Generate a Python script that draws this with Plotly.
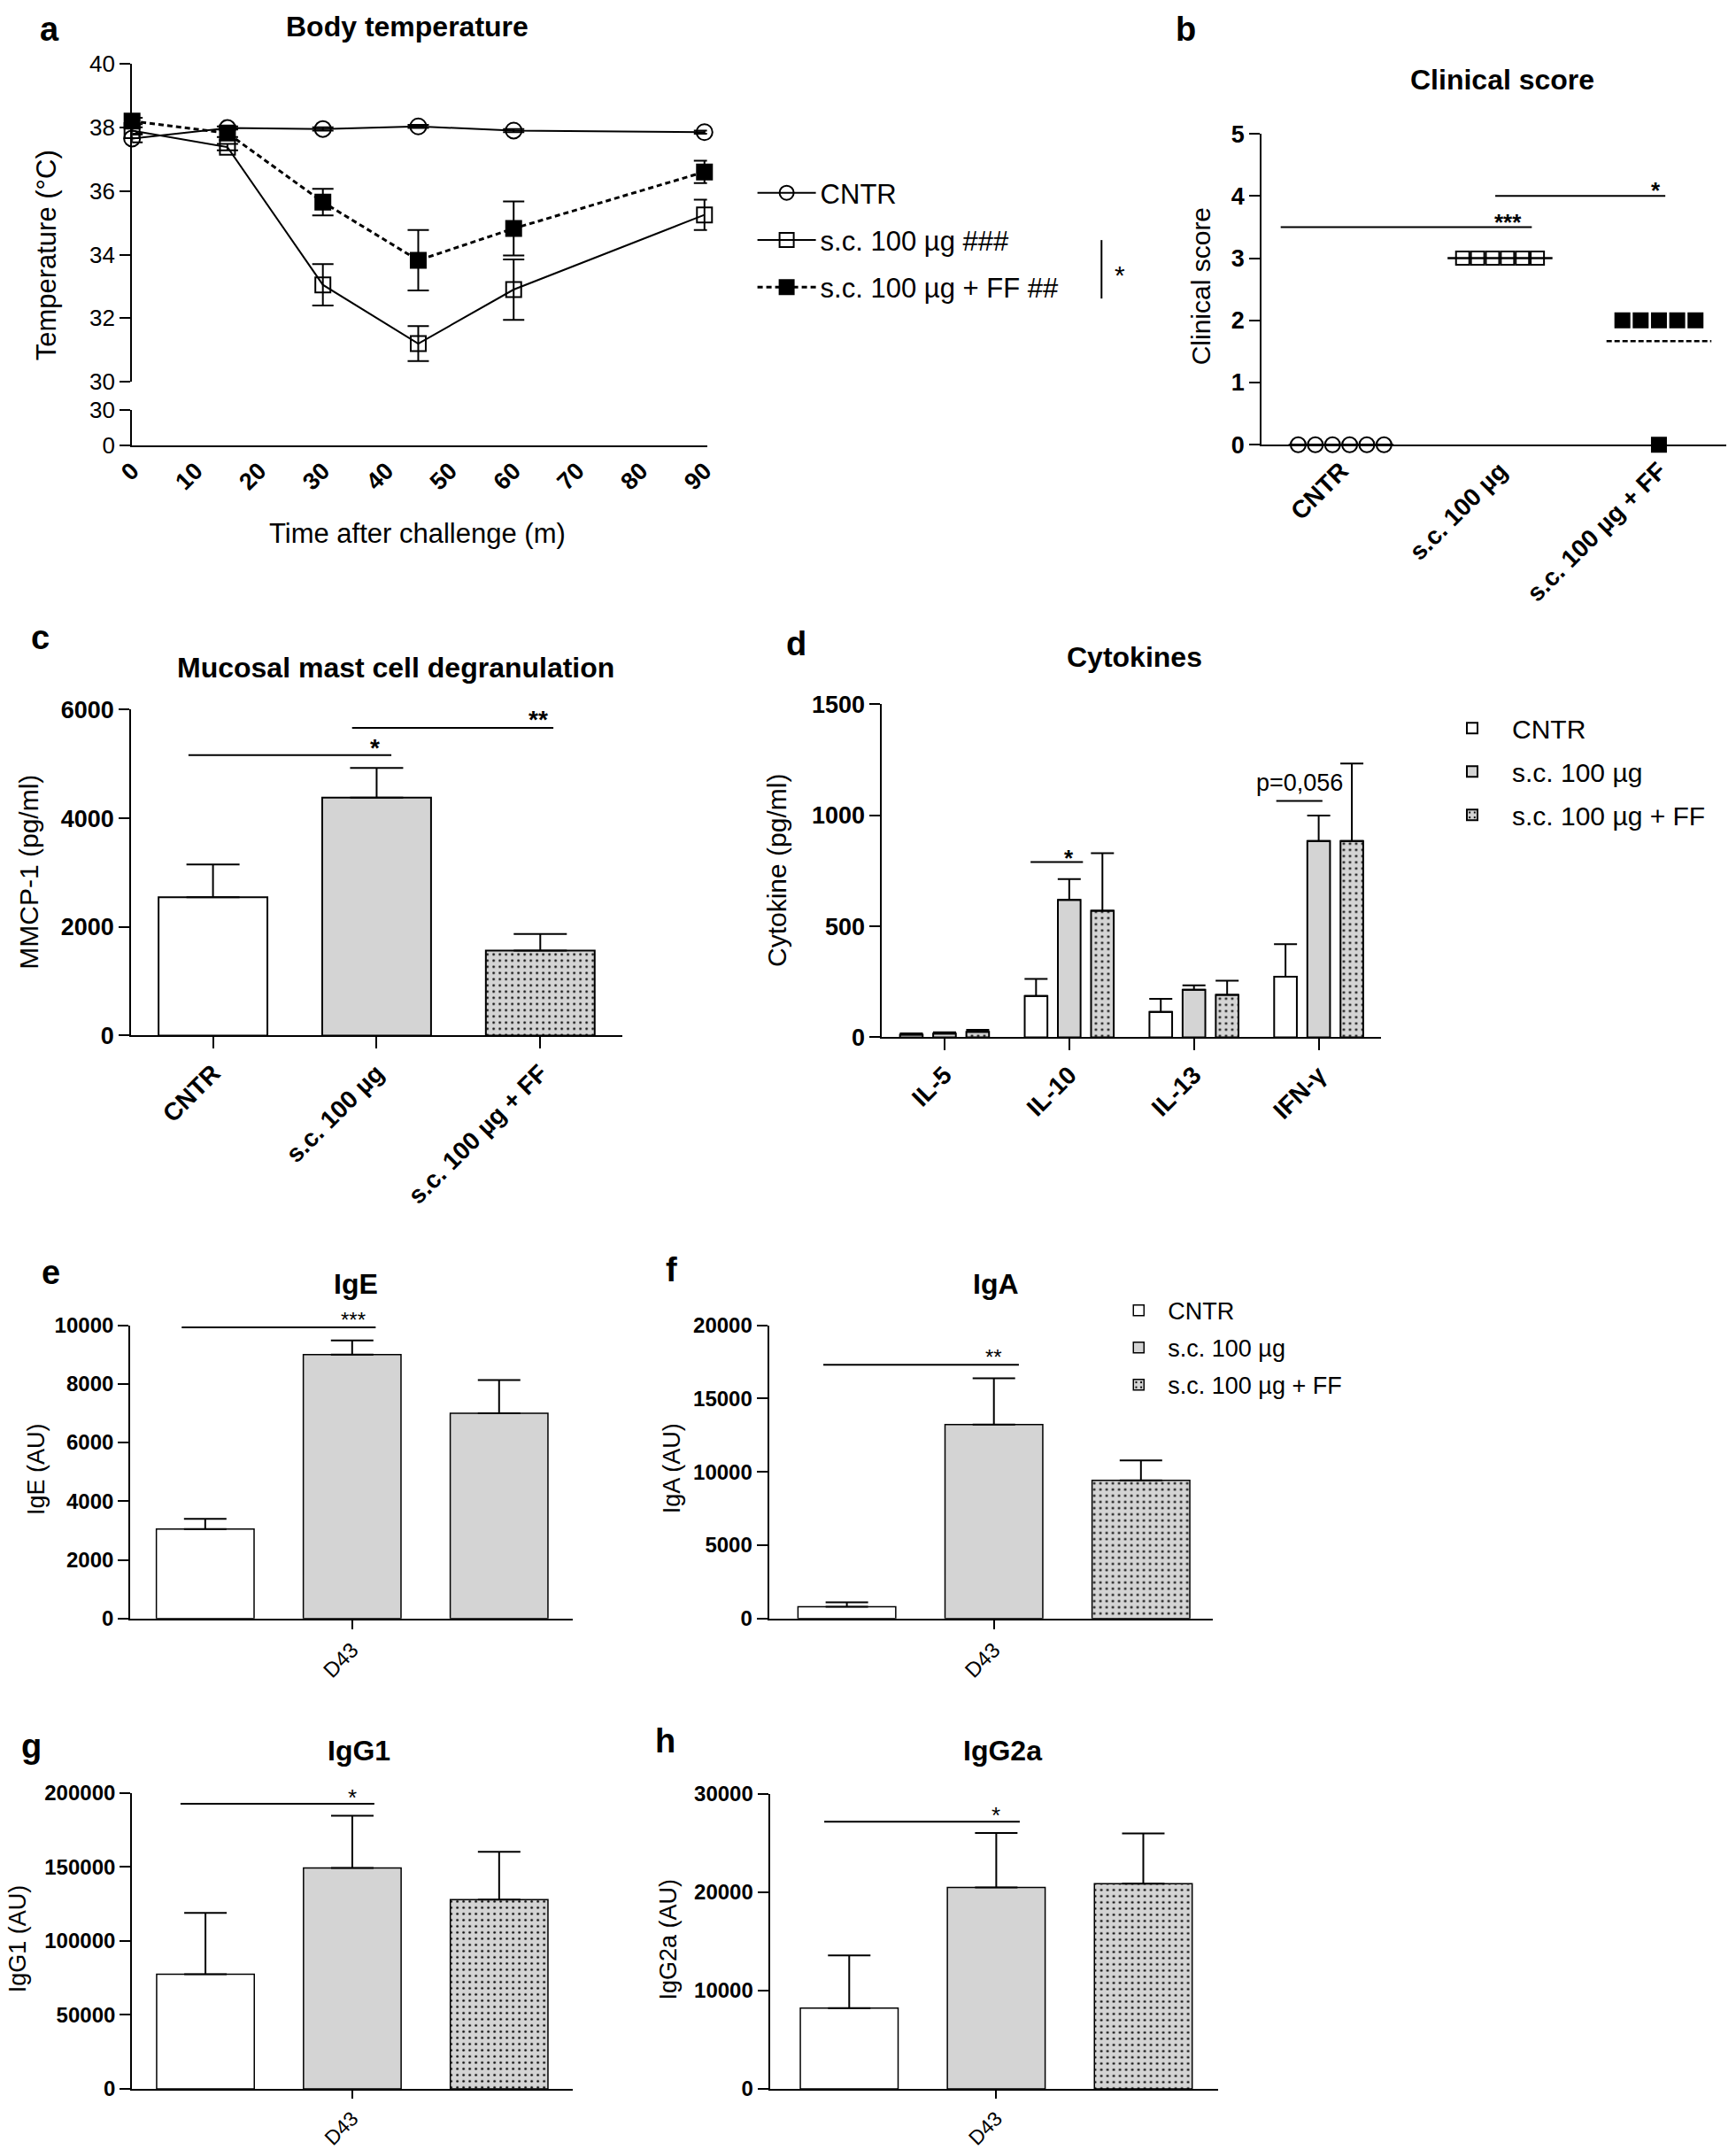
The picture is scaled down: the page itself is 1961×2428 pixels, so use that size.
import numpy as np
import plotly.graph_objects as go

W, H = 1961, 2428
FONT = "Liberation Sans, Arial, Helvetica, sans-serif"
GRAY = "#d4d4d4"

# ---------------- data ----------------
# (a) Body temperature
time_min = [0, 15, 30, 45, 60, 90]
temp_cntr = [37.65, 37.98, 37.95, 38.03, 37.9, 37.85]
temp_cntr_err = [0.12, 0.05, 0.05, 0.05, 0.05, 0.05]
temp_sc = [37.9, 37.38, 33.05, 31.2, 32.9, 35.25]
temp_sc_err = [0.1, 0.1, 0.65, 0.55, 0.95, 0.48]
temp_ff = [38.2, 37.82, 35.65, 33.82, 34.82, 36.6]
temp_ff_err = [0.1, 0.12, 0.42, 0.95, 0.85, 0.35]
legend_a = ["CNTR", "s.c. 100 µg ###", "s.c. 100 µg + FF ##"]

# groups
group_labels = ["CNTR", "s.c. 100 µg", "s.c. 100 µg + FF"]

# (b) Clinical score (individual animals)
score_cntr = [0, 0, 0, 0, 0, 0]
score_sc = [3, 3, 3, 3, 3, 3]
score_ff = [2, 2, 2, 2, 2, 0]

# (c) MMCP-1
mmcp_mean = [2545, 4378, 1564]
mmcp_sem = [604, 546, 305]

# (d) Cytokines
cyto_names = ["IL-5", "IL-10", "IL-13", "IFN-γ"]
cyto_cntr = [12, 186, 115, 273]
cyto_cntr_err = [6, 77, 58, 147]
cyto_sc = [17, 619, 214, 884]
cyto_sc_err = [6, 94, 20, 115]
cyto_ff = [25, 570, 191, 884]
cyto_ff_err = [9, 259, 64, 349]

# (e-h) Immunoglobulins at D43
ig_day = ["D43"]
ige_mean = [3050, 9000, 7000]
ige_err = [350, 480, 1130]
iga_mean = [800, 13230, 9420]
iga_err = [300, 3160, 1360]
igg1_mean = [77500, 149300, 127950]
igg1_err = [41440, 35400, 32250]
igg2a_mean = [8220, 20490, 20870]
igg2a_err = [5350, 5540, 5100]

# ---------------- helpers ----------------
S = 0.986  # compensation for the capture scaling about the page centre


def tx(x):
    return W / 2 + (x - W / 2) / S


def ty(y):
    return H / 2 + (y - H / 2) / S


def px(x):
    return min(max(tx(x) / W, 0.0), 1.0)


def py(y, min_top=None):
    v = ty(y)
    if min_top is not None:
        v = max(v, min_top)
    return min(max(1 - v / H, 0.0), 1.0)


def dx(a, b):
    return [px(a), px(b)]


def dy(top, bottom):
    return [py(bottom), py(top)]


def fnt(size, bold=False):
    return dict(family=FONT, size=size, color="black", weight="bold" if bold else "normal")


fig = go.Figure()
annotations = []
shapes = []


def text(s, x, y, size, bold=False, angle=0, xref="paper", yref="paper",
         xanchor="center", yanchor="middle", yshift=0, min_top=None):
    if xref == "paper":
        x = px(x)
    if yref == "paper":
        y = py(y, min_top)
    annotations.append(dict(text=s, x=x, y=y, xref=xref, yref=yref, showarrow=False,
                            xanchor=xanchor, yanchor=yanchor, yshift=yshift,
                            textangle=angle, font=fnt(size, bold)))


def hline(x0, x1, y, xref, yref, dash="solid", width=2):
    shapes.append(dict(type="line", x0=x0, x1=x1, y0=y, y1=y, xref=xref, yref=yref,
                       line=dict(color="black", width=width, dash=dash)))


def xax(domain, rng, anchor, tickvals, ticktext, ticks="outside", size=28, bold=True,
        angle=-45, ticklen=13):
    return dict(domain=domain, range=rng, anchor=anchor, showline=True, linecolor="black",
                linewidth=2, ticks=ticks, ticklen=ticklen, tickwidth=2, tickcolor="black",
                tickvals=tickvals, ticktext=ticktext, tickangle=angle,
                tickfont=fnt(size, bold), showgrid=False, zeroline=False, fixedrange=True)


def yax(domain, rng, anchor, tickvals, size=27, bold=True):
    return dict(domain=domain, range=rng, anchor=anchor, showline=True, linecolor="black",
                linewidth=2, ticks="outside", ticklen=12, tickwidth=2, tickcolor="black",
                tickvals=tickvals, tickformat="d", tickfont=fnt(size, bold), showgrid=False,
                zeroline=False, fixedrange=True)


def add_bar(xa, ya, x, y, err, name, fill, dotted, width, cap, legend=None, show=False, lw=2):
    if dotted:
        pattern = dict(shape=".", fgcolor="black", bgcolor=GRAY, size=7, solidity=0.12,
                       fillmode="replace")
    else:
        pattern = dict(shape="")
    fig.add_trace(go.Bar(
        x=x, y=y, width=width, name=name, xaxis=xa, yaxis=ya,
        marker=dict(color=fill, line=dict(color="black", width=lw), pattern=pattern),
        error_y=dict(type="data", array=err, arrayminus=[0] * len(err), symmetric=False,
                     color="black", thickness=2, width=cap),
        showlegend=show, legend=legend if legend else "legend", legendgroup=name + str(legend),
    ))


fills = ["white", GRAY, GRAY]
dots = [False, False, True]

# ---------------- panel a ----------------
a_series = [
    (temp_cntr, temp_cntr_err, "circle-open", "solid", 2, 18),
    (temp_sc, temp_sc_err, "square-open", "solid", 2, 17),
    (temp_ff, temp_ff_err, "square", "6px,4px", 3, 17),
]
for name, (yv, ev, sym, dash, lw, ms) in zip(legend_a, a_series):
    fig.add_trace(go.Scatter(
        x=time_min, y=yv, name=name, mode="lines+markers", xaxis="x", yaxis="y2",
        legend="legend", legendgroup=name,
        line=dict(color="black", width=lw, dash=dash),
        marker=dict(symbol=sym, size=ms, color="black", line=dict(color="black", width=2)),
        error_y=dict(type="data", array=ev, color="black", thickness=2, width=12),
        cliponaxis=False,
    ))
fig.add_trace(go.Scatter(x=[], y=[], xaxis="x", yaxis="y", showlegend=False))

# ---------------- panel b ----------------
def spread(values, center, step):
    values = np.asarray(values, dtype=float)
    xs = np.empty(len(values))
    for v in np.unique(values):
        idx = np.where(values == v)[0]
        n = len(idx)
        xs[idx] = center + (np.arange(n) - (n - 1) / 2) * step
    return xs


b_series = [
    (score_cntr, "circle-open", 17, 0.108),
    (score_sc, "square-open", 15, 0.094),
    (score_ff, "square", 16, 0.115),
]
for gi, (vals, sym, ms, step) in enumerate(b_series):
    fig.add_trace(go.Scatter(
        x=spread(vals, gi, step), y=vals, mode="markers", xaxis="x3", yaxis="y3",
        marker=dict(symbol=sym, size=ms, color="black", line=dict(color="black", width=2)),
        showlegend=False, cliponaxis=False, name=group_labels[gi],
    ))
    m = float(np.mean(vals))
    hline(gi - 0.33, gi + 0.33, m, "x3", "y3", dash="solid" if gi < 2 else "6px,3px", width=2.5)

hline(-0.38, 1.2, 3.5, "x3", "y3")
text("***", 1.05, 3.5, 26, True, xref="x3", yref="y3", yshift=5)
hline(0.97, 2.04, 4.0, "x3", "y3")
text("*", 1.98, 4.0, 26, True, xref="x3", yref="y3", yshift=6)

# panel b x axis runs to the right page edge: keep the data scale when the domain is clamped
b_left, b_right = 1422, 1961
b_span = tx(b_right) - tx(b_left)
b_range_end = -0.5 + 3.0 * (W - tx(b_left)) / b_span

# ---------------- panel c ----------------
for gi in range(3):
    add_bar("x4", "y4", [gi], [mmcp_mean[gi]], [mmcp_sem[gi]], group_labels[gi],
            fills[gi], dots[gi], 0.665, 30)
hline(-0.15, 1.09, 5164, "x4", "y4")
text("*", 0.99, 5164, 28, True, xref="x4", yref="y4", yshift=8)
hline(0.85, 2.08, 5665, "x4", "y4")
text("**", 1.99, 5665, 28, True, xref="x4", yref="y4", yshift=9)

# ---------------- panel d ----------------
d_series = [(cyto_cntr, cyto_cntr_err), (cyto_sc, cyto_sc_err), (cyto_ff, cyto_ff_err)]
base = np.arange(len(cyto_names))
for si, (yv, ev) in enumerate(d_series):
    add_bar("x5", "y5", base + (si - 1) * 0.266, yv, ev, group_labels[si], fills[si], dots[si],
            0.182, 13, legend="legend2", show=True)
hline(0.69, 1.11, 790, "x5", "y5")
text("*", 1.0, 790, 26, True, xref="x5", yref="y5", yshift=4)
hline(2.66, 3.03, 1065, "x5", "y5")
text("p=0,056", 2.85, 1065, 27, False, xref="x5", yref="y5", yshift=20)

# ---------------- panels e-h ----------------
ig_panels = [
    ("x6", "y6", ige_mean, ige_err, [False, False, False], None),
    ("x7", "y7", iga_mean, iga_err, dots, "legend3"),
    ("x8", "y8", igg1_mean, igg1_err, dots, None),
    ("x9", "y9", igg2a_mean, igg2a_err, dots, None),
]
for xa, ya, means, errs, dd, leg in ig_panels:
    for si in range(3):
        add_bar(xa, ya, [si - 1], [means[si]], [errs[si]], group_labels[si], fills[si], dd[si],
                0.665, 24, legend=leg, show=leg is not None, lw=1.5)

hline(-1.16, 0.16, 9930, "x6", "y6")
text("***", 0.01, 9930, 24, False, xref="x6", yref="y6", yshift=8)
hline(-1.16, 0.17, 17310, "x7", "y7")
text("**", 0.0, 17310, 24, False, xref="x7", yref="y7", yshift=9)
hline(-1.17, 0.15, 192650, "x8", "y8")
text("*", 0.0, 192650, 26, False, xref="x8", yref="y8", yshift=7)
hline(-1.17, 0.16, 27170, "x9", "y9")
text("*", 0.0, 27170, 26, False, xref="x9", yref="y9", yshift=7)

# ---------------- text ----------------
TITLE = 32
LETTER = 38
text("a", 52, 24, LETTER, True, min_top=18)
text("Body temperature", 456, 22, TITLE, True, min_top=15)
text("Temperature (°C)", 48, 290, 31, angle=-90)
text("Time after challenge (m)", 468, 604, 31)
shapes.append(dict(type="line", xref="paper", yref="paper", x0=px(1241), x1=px(1241),
                   y0=py(273), y1=py(339), line=dict(color="black", width=2)))
text("*", 1262, 312, 30)

text("b", 1336, 26, LETTER, True, min_top=18)
text("Clinical score", 1694, 92, TITLE, True)
text("Clinical score", 1353, 325, 30, angle=-90)

text("c", 41, 722, LETTER, True)
text("Mucosal mast cell degranulation", 443, 756, TITLE, True)
text("MMCP-1 (pg/ml)", 28, 986, 30, angle=-90)

text("d", 896, 729, LETTER, True)
text("Cytokines", 1278, 744, TITLE, True)
text("Cytokine (pg/ml)", 874, 985, 30, angle=-90)

text("e", 53, 1438, LETTER, True)
text("IgE", 398, 1451, TITLE, True)
text("IgE (AU)", 36, 1660, 27, angle=-90)
text("f", 755, 1435, LETTER, True)
text("IgA", 1122, 1451, TITLE, True)
text("IgA (AU)", 755, 1660, 27, angle=-90)
text("g", 31, 1973, LETTER, True)
text("IgG1", 402, 1978, TITLE, True)
text("IgG1 (AU)", 16, 2190, 27, angle=-90)
text("h", 748, 1967, LETTER, True)
text("IgG2a", 1129, 1978, TITLE, True)
text("IgG2a (AU)", 751, 2191, 27, angle=-90)

# ---------------- layout ----------------
layout = dict(
    width=W, height=H, autosize=False, margin=dict(l=0, r=0, t=0, b=0, pad=0),
    paper_bgcolor="white", plot_bgcolor="white", barmode="overlay",
    font=dict(family=FONT, color="black"),
    annotations=annotations, shapes=shapes,
    xaxis=xax(dx(145, 795), [0, 90.4], "y", list(range(0, 100, 10)),
              [str(v) for v in range(0, 100, 10)], ticks="", size=27),
    yaxis=yax(dy(465, 505), [0, 30], "x", [0, 30], size=26, bold=False),
    yaxis2=yax(dy(74, 433), [30, 40], "x", list(range(30, 42, 2)), size=26, bold=False),
    xaxis3=xax(dx(b_left, b_right), [-0.5, b_range_end], "y3", [0, 1, 2], group_labels,
               ticks=""),
    yaxis3=yax(dy(153, 504), [0, 5], "x3", [0, 1, 2, 3, 4, 5]),
    xaxis4=xax(dx(144, 699), [-0.5, 2.5], "y4", [0, 1, 2], group_labels),
    yaxis4=yax(dy(803, 1171), [0, 6000], "x4", [0, 2000, 4000, 6000]),
    xaxis5=xax(dx(993, 1557), [-0.5, 3.5], "y5", list(base), cyto_names),
    yaxis5=yax(dy(797, 1173), [0, 1500], "x5", [0, 500, 1000, 1500]),
    xaxis6=xax(dx(143, 643), [-1.51, 1.5], "y6", [0], ig_day, size=24, bold=False, ticklen=10),
    yaxis6=yax(dy(1498, 1829), [0, 10000], "x6", list(range(0, 12000, 2000)), size=24),
    xaxis7=xax(dx(865, 1367), [-1.53, 1.49], "y7", [0], ig_day, size=24, bold=False, ticklen=10),
    yaxis7=yax(dy(1498, 1829), [0, 20000], "x7", list(range(0, 25000, 5000)), size=24),
    xaxis8=xax(dx(145, 643), [-1.5, 1.5], "y8", [0], ig_day, size=23, bold=False, ticklen=9),
    yaxis8=yax(dy(2026, 2360), [0, 200000], "x8", list(range(0, 250000, 50000)), size=24),
    xaxis9=xax(dx(866, 1373), [-1.54, 1.51], "y9", [0], ig_day, size=23, bold=False, ticklen=9),
    yaxis9=yax(dy(2027, 2360), [0, 30000], "x9", list(range(0, 40000, 10000)), size=24),
    legend=dict(x=px(847), y=py(193), xanchor="left", yanchor="top", font=fnt(31),
                itemwidth=66, tracegroupgap=10, bgcolor="rgba(0,0,0,0)"),
    legend2=dict(x=px(1615), y=py(798), xanchor="left", yanchor="top", font=fnt(30),
                 itemwidth=80, tracegroupgap=7, bgcolor="rgba(0,0,0,0)"),
    legend3=dict(x=px(1250), y=py(1457), xanchor="left", yanchor="top", font=fnt(27),
                 itemwidth=56, tracegroupgap=4, bgcolor="rgba(0,0,0,0)"),
)
fig.update_layout(**layout)
fig.write_html(
    "out.html",
    config={"displayModeBar": False},
    post_script="document.body.style.margin='0px';document.body.style.padding='0px';"
                "document.documentElement.style.overflow='hidden';"
                "document.body.style.overflow='hidden';",
)
